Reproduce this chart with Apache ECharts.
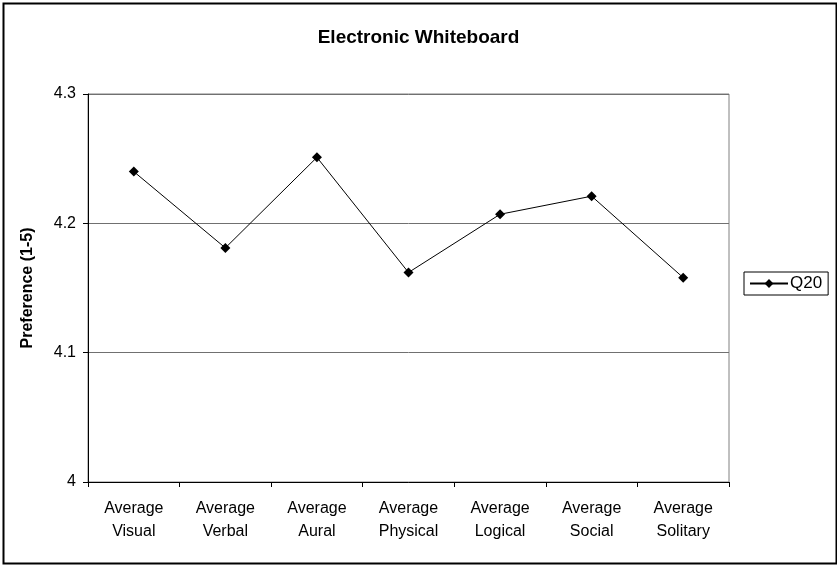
<!DOCTYPE html>
<html>
<head>
<meta charset="utf-8">
<script src="https://cdn.jsdelivr.net/npm/echarts@6/dist/echarts.min.js"></script>
<style>
  html, body { margin: 0; padding: 0; background: #fff; }
  #chart { width: 837px; height: 565px; }
</style>
</head>
<body>
<div id="chart"></div>
<script>
// Learning-style averages for question Q20
const categories = [
  'Average\nVisual', 'Average\nVerbal', 'Average\nAural', 'Average\nPhysical',
  'Average\nLogical', 'Average\nSocial', 'Average\nSolitary'
];
const q20 = [4.240, 4.181, 4.251, 4.162, 4.207, 4.221, 4.158];
const seriesName = 'Q20';
const chartTitle = 'Electronic Whiteboard';
const yTitle = 'Preference (1-5)';

const FONT = 'Liberation Sans, Arial, sans-serif';
const chart = echarts.init(document.getElementById('chart'), null, { renderer: 'canvas' });

chart.setOption({
  backgroundColor: '#ffffff',
  animation: false,
  title: {
    text: chartTitle,
    left: 'center',
    top: 23,
    textStyle: { fontFamily: FONT, fontSize: 19, fontWeight: 'bold', color: '#000' }
  },
  legend: {
    data: [seriesName],
    orient: 'vertical',
    left: 744,
    top: 272,
    padding: [3, 6, 3, 5],
    borderColor: '#000',
    borderWidth: 1,
    itemWidth: 38,
    itemHeight: 11,
    itemGap: 0,
    textStyle: { fontFamily: FONT, fontSize: 17, color: '#000', padding: [0, 0, 0, -3] }
  },
  grid: {
    left: 88, right: 108, top: 94, bottom: 83,
    show: true,
    borderColor: '#808080',
    borderWidth: 1
  },
  xAxis: {
    type: 'category',
    data: categories,
    boundaryGap: true,
    axisLine: { lineStyle: { color: '#000', width: 1 } },
    axisTick: { show: true, alignWithLabel: false, length: 5, lineStyle: { color: '#000' } },
    axisLabel: {
      interval: 0, margin: 15, color: '#000',
      fontFamily: FONT, fontSize: 16, lineHeight: 23, align: 'center'
    },
    splitLine: { show: false }
  },
  yAxis: {
    type: 'value',
    min: 4,
    max: 4.3,
    interval: 0.1,
    name: yTitle,
    nameLocation: 'middle',
    nameGap: 52,
    nameRotate: 90,
    nameTextStyle: { fontFamily: FONT, fontSize: 16, fontWeight: 'bold', color: '#000' },
    axisLine: { show: true, lineStyle: { color: '#000', width: 1 } },
    axisTick: { show: true, length: 5, lineStyle: { color: '#000' } },
    axisLabel: { margin: 12, color: '#000', fontFamily: FONT, fontSize: 16 },
    splitLine: { show: true, lineStyle: { color: '#707070', width: 1 } }
  },
  graphic: [{
    type: 'rect',
    left: 1, top: 1,
    shape: { x: 0, y: 0, width: 833, height: 560 },
    style: { fill: 'none', stroke: '#000', lineWidth: 2 },
    silent: true,
    z: 100
  }],
  series: [{
    name: seriesName,
    type: 'line',
    data: q20,
    symbol: 'diamond',
    symbolSize: 10,
    showSymbol: true,
    lineStyle: { color: '#000', width: 1 },
    itemStyle: { color: '#000', borderWidth: 0 }
  }]
});
</script>
</body>
</html>
